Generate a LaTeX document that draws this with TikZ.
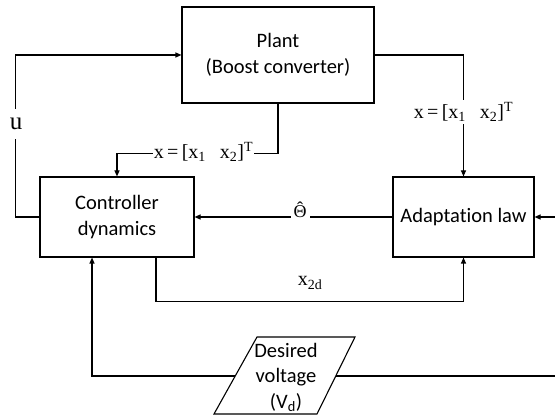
\documentclass[tikz,border=0pt]{standalone}
\usepackage[no-math]{fontspec}
\setmainfont{Carlito}[Ligatures=NoCommon]
\newfontfamily\mfont{Liberation Serif}
\usetikzlibrary{arrows.meta}
\newcommand{\xvec}{x\,=\,[x\textsubscript{1}\hspace{0.7em}x\textsubscript{2}]\textsuperscript{T}}
\begin{document}
\begin{tikzpicture}[x=1pt,y=-1pt,
  blk/.style={draw, line width=1.1pt, minimum height=80pt, inner sep=0pt, align=center,
    font=\fontsize{20.5}{25.5}\selectfont},
  wire/.style={line width=1.1pt},
  conn/.style={line width=1.1pt, -{Triangle[length=6pt,width=5pt]}},
  lbl/.style={fill=white, inner sep=2pt, font=\mfont\fontsize{20}{22}\selectfont},
  plbl/.style={inner sep=1pt, font=\mfont\fontsize{20}{22}\selectfont}
]
\useasboundingbox (0,0) rectangle (555,417);

% blocks
\node[blk, minimum width=192pt, minimum height=96pt] (plant) at (278,55) {Plant\\(Boost converter)};
\node[blk, minimum width=154pt] (ctrl) at (117,217) {Controller\\dynamics};
\node[blk, minimum width=141pt] (adapt) at (463.5,217) {Adaptation law};

% desired voltage parallelogram
\coordinate (dv1) at (257,337);
\coordinate (dv2) at (355,337);
\coordinate (dv3) at (317,414);
\coordinate (dv4) at (214,414);
\draw[wire] (dv1) -- (dv2) -- (dv3) -- (dv4) -- cycle;
\node[align=center, inner sep=0pt, font=\fontsize{20.5}{25.5}\selectfont] (dvt) at (286,377) {Desired\\voltage\\(V\textsubscript{d})};
\coordinate (dvL) at (235,376);
\coordinate (dvR) at (336,376);
\coordinate (edgeR) at (555,376);
\coordinate (inR) at (555,217);

% connectors
\draw[conn] (ctrl.west) -- ++(-24,0) |- (plant.west);
\node[lbl, inner sep=9pt, font=\mfont\fontsize{25}{28}\selectfont] (u) at (16,124) {u};

\draw[conn] (plant.east) -| (adapt.north);
\node[lbl] (xa) at (463.5,112) {\xvec};

\draw[conn] (plant.south) -- ++(0,50) -| (ctrl.north);
\node[lbl, inner sep=1pt] (xc) at (203.5,152) {\xvec};

\draw[conn] (adapt.west) -- (ctrl.east);
\node[lbl, anchor=base, inner sep=3pt, font=\mfont\fontsize{18}{20}\selectfont] (th) at (300,218) {\accent"02C6 Θ};

\draw[conn] ([xshift=39pt]ctrl.south) -- ++(0,44) -| (adapt.south);
\node[plbl] (x2d) at (310,283) {x\textsubscript{2d}};

\draw[conn] (dvL) -| ([xshift=-25pt]ctrl.south);
\draw[wire] (dvR) -- (edgeR);
\draw[conn] (inR) -- (adapt.east);
\end{tikzpicture}
\end{document}
